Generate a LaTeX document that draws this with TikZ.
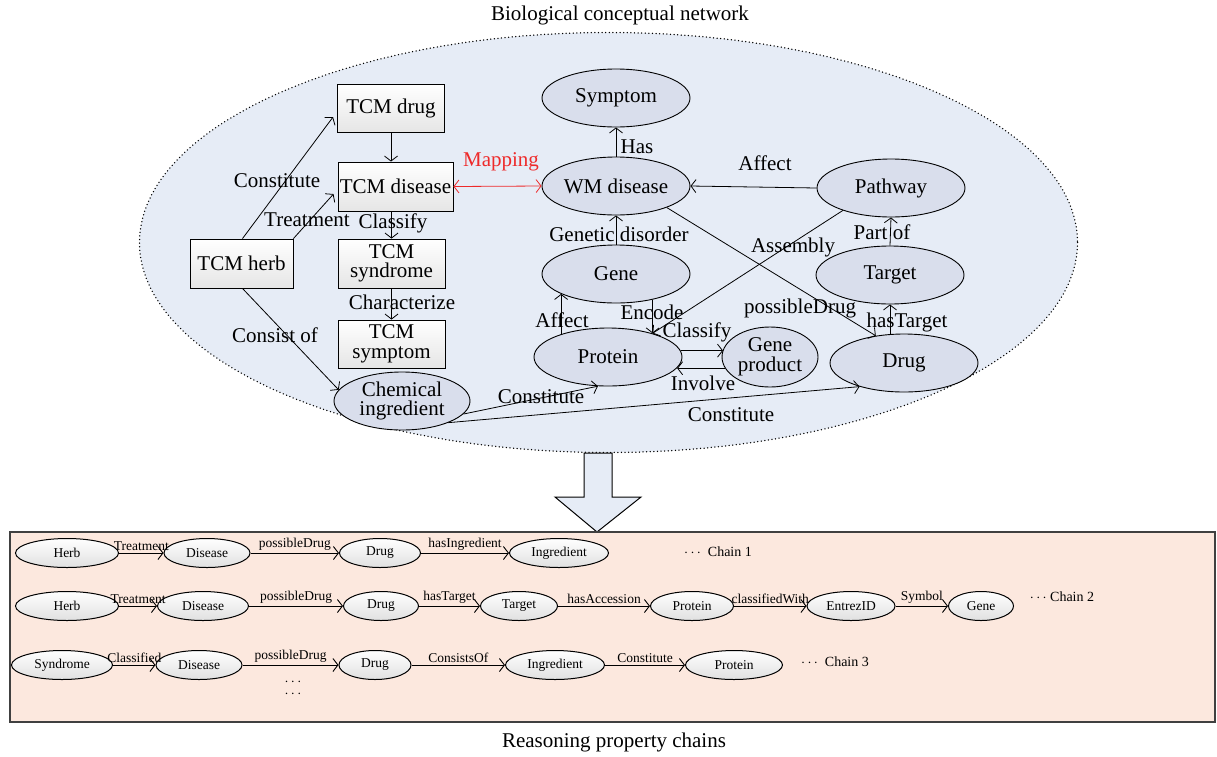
\documentclass[tikz,border=0pt]{standalone}
\usepackage{fontspec}
\setmainfont{Liberation Serif}
\usetikzlibrary{shapes.geometric,arrows.meta,calc}
\definecolor{bgblue}{HTML}{E6ECF6}
\definecolor{ellfill}{HTML}{D9DEEC}
\definecolor{peach}{HTML}{FCE8DE}
\definecolor{mapred}{HTML}{EE2A2A}
\tikzset{
  big/.style={font=\fontsize{21}{19.5}\selectfont},
  boxnode/.style={draw, line width=0.9pt, top color=white, bottom color=black!10, big, align=center, inner sep=1pt},
  ellnode/.style={ellipse, draw, line width=0.9pt, fill=ellfill, big, align=center, inner sep=0pt, minimum width=148pt, minimum height=58pt},
  lbl/.style={big, inner sep=0pt},
  arr/.style={line width=0.8pt, -{Straight Barb[length=5pt,width=13pt]}},
  chn/.style={ellipse, draw, line width=1pt, top color=white, bottom color=black!12, font=\fontsize{13.5}{15}\selectfont, inner sep=0pt, minimum height=29pt},
  carr/.style={line width=0.9pt, -{Straight Barb[length=5pt,width=13pt]}},
  clbl/.style={font=\fontsize{13.5}{15}\selectfont, inner sep=0pt, anchor=base},
  ctxt/.style={font=\fontsize{14}{16}\selectfont, inner sep=0pt}
}
\begin{document}
\begin{tikzpicture}[x=1pt,y=-1pt]
\useasboundingbox (0,0) rectangle (1217,756);
% background network ellipse
\path[fill=bgblue, draw=black, line width=1.5pt, line cap=round, dash pattern=on 0pt off 3.6pt] (608.5,242.5) ellipse [x radius=469, y radius=210];
\node[lbl, font=\fontsize{21}{24}\selectfont] (title) at (620,15) {Biological conceptual network};

% TCM boxes
\node[boxnode, minimum width=107pt, minimum height=48pt] (tdrug) at (391,108) {TCM drug};
\node[boxnode, minimum width=115pt, minimum height=49pt] (tdis) at (395.5,186.5) {TCM disease};
\node[boxnode, minimum width=107pt, minimum height=49pt] (tsyn) at (391.5,263.5) {TCM\\syndrome};
\node[boxnode, minimum width=103pt, minimum height=49pt] (therb) at (241.5,263.5) {TCM herb};
\node[boxnode, minimum width=107pt, minimum height=48pt] (tsym) at (391.5,344) {TCM\\symptom};
\node[ellnode, minimum width=136pt, minimum height=58pt] (chem) at (402,401) {Chemical\\ingredient};

% WM ellipses
\node[ellnode] (symp) at (616,98) {Symptom};
\node[ellnode] (wmd) at (616,186) {WM disease};
\node[ellnode] (gene) at (616,274) {Gene};
\node[ellnode] (prot) at (608,357) {Protein};
\node[ellnode, minimum width=96pt, minimum height=60pt] (gprod) at (770,357) {Gene\\product};
\node[ellnode] (path) at (891,188) {Pathway};
\node[ellnode] (targ) at (890,275) {Target};
\node[ellnode] (drug) at (904,363) {Drug};

% TCM edges
\draw[arr] ($(therb.north)+(1,0)$) -- ($(tdrug.west)+(-4,9)$);
\draw[arr] (therb.north east) -- ($(tdis.west)+(-4,7.5)$);
\draw[arr] ($(therb.south)+(1,0)$) -- (chem.170);
\draw[arr] (tdrug.south) -- (tdrug.south |- tdis.north);
\draw[arr] (tdis.south -| tsyn.north) -- (tsyn.north);
\draw[arr] (tsyn.south) -- (tsym.north);
\draw[line width=0.8pt, mapred, {Straight Barb[length=5pt,width=13pt]}-{Straight Barb[length=5pt,width=13pt]}] (tdis.east) -- (wmd.west);

% WM edges
\draw[arr] (wmd.north) -- (symp.south);
\draw[arr] (gene.north) -- (wmd.south);
\draw[arr] (path.west) -- (wmd.east);
\draw[arr] (targ.north) -- (path.south);
\draw[arr] (drug.north -| targ.south) -- (targ.south);
\draw[arr] (wmd.-23) -- (drug.136);
\draw[arr] (path.205) -- (prot.28);
\draw[arr] (gene.-35) -- (gene.-35 |- prot.28);
\draw[arr] (prot.154) -- (prot.154 |- gene.200);
\draw[arr] (prot.5) -- (prot.5 -| gprod.171);
\draw[arr] (gprod.194) -- (gprod.194 -| prot.-9);
\draw[arr] (chem.-12) -- (prot.-109);
\draw[arr] (chem.-25) -- (drug.208);

% labels
\node[lbl] (l1) at (277,181) {Constitute};
\node[lbl] (l2) at (307,220) {Treatment};
\node[lbl] (l3) at (393,223) {Classify};
\node[lbl] (l4) at (402,302) {Characterize};
\node[lbl] (l5) at (275,335) {Consist of};
\node[lbl, text=mapred] (l6) at (501,162) {Mapping};
\node[lbl] (l7) at (637,147) {Has};
\node[lbl] (l8) at (619,234) {Genetic disorder};
\node[lbl] (l9) at (765,163) {Affect};
\node[lbl] (l10) at (793,247) {Assembly};
\node[lbl] (l11) at (882,232) {Part of};
\node[lbl] (l12) at (907,322) {hasTarget};
\node[lbl] (l13) at (800,308) {possibleDrug};
\node[lbl] (l14) at (652,312) {Encode};
\node[lbl] (l15) at (562,320) {Affect};
\node[lbl] (l16) at (697,332) {Classify};
\node[lbl] (l17) at (703,383) {Involve};
\node[lbl] (l18) at (541,397) {Constitute};
\node[lbl] (l19) at (731,415) {Constitute};

% big arrow
\draw[fill=bgblue, line width=1pt, line join=miter] (584,453) -- (612,453) -- (612,497) -- (641,497) -- (597,532) -- (555,497) -- (584,497) -- cycle;

% bottom box
\node[draw=black!75, line width=1.2pt, fill=peach, minimum width=1205pt, minimum height=190pt, inner sep=0pt] (bbox) at (612.5,627) {};
\node[lbl, font=\fontsize{21}{24}\selectfont] (cap) at (614,742) {Reasoning property chains};

% chain 1
\node[chn, minimum width=103pt] (a1) at (67,553) {Herb};
\node[chn, minimum width=86pt] (a2) at (207,553) {Disease};
\node[chn, minimum width=81pt] (a3) at (380,553) {Drug};
\node[chn, minimum width=99pt] (a4) at (559,553) {Ingredient};
\draw[carr] (a1) -- (a2) node[clbl, midway, above=2pt] {Treatment};
\draw[carr] (a2) -- (a3) node[clbl, midway, above=2pt] {possibleDrug};
\draw[carr] (a3) -- (a4) node[clbl, midway, above=2pt] {hasIngredient};
\node[ctxt] (c1) at (718,552) {$\cdots$\ \ Chain 1};

% chain 2
\node[chn, minimum width=103pt] (b1) at (67,606) {Herb};
\node[chn, minimum width=91pt] (b2) at (203,606) {Disease};
\node[chn, minimum width=75pt] (b3) at (381,606) {Drug};
\node[chn, minimum width=77pt] (b4) at (519,606) {Target};
\node[chn, minimum width=83pt] (b5) at (692,606) {Protein};
\node[chn, minimum width=88pt] (b6) at (851,606) {EntrezID};
\node[chn, minimum width=65pt] (b7) at (981,606) {Gene};
\draw[carr] (b1) -- (b2) node[clbl, midway, above=2pt] {Treatment};
\draw[carr] (b2) -- (b3) node[clbl, midway, above=2pt] {possibleDrug};
\draw[carr] (b3) -- (b4) node[clbl, midway, above=2pt] {hasTarget};
\draw[carr] (b4) -- (b5) node[clbl, midway, above=2pt] {hasAccession};
\draw[carr] (b5) -- (b6) node[clbl, midway, above=2pt] {classifiedWith};
\draw[carr] (b6) -- (b7) node[clbl, midway, above=2pt] {Symbol};
\node[ctxt] (c2) at (1062,597) {$\cdots$\ Chain 2};

% chain 3
\node[chn, minimum width=101pt] (d1) at (62,665) {Syndrome};
\node[chn, minimum width=86pt] (d2) at (199,665) {Disease};
\node[chn, minimum width=72pt] (d3) at (375,665) {Drug};
\node[chn, minimum width=99pt] (d4) at (555,665) {Ingredient};
\node[chn, minimum width=97pt] (d5) at (734,665) {Protein};
\draw[carr] (d1) -- (d2) node[clbl, midway, above=2pt] {Classified};
\draw[carr] (d2) -- (d3) node[clbl, midway, above=2pt] {possibleDrug};
\draw[carr] (d3) -- (d4) node[clbl, midway, above=2pt] {ConsistsOf};
\draw[carr] (d4) -- (d5) node[clbl, midway, above=2pt] {Constitute};
\node[ctxt] (c3) at (835,662) {$\cdots$\ \ Chain 3};
\node[ctxt] (dd1) at (293,682) {$\cdots$};
\node[ctxt] (dd2) at (293,694) {$\cdots$};
\end{tikzpicture}
\end{document}
